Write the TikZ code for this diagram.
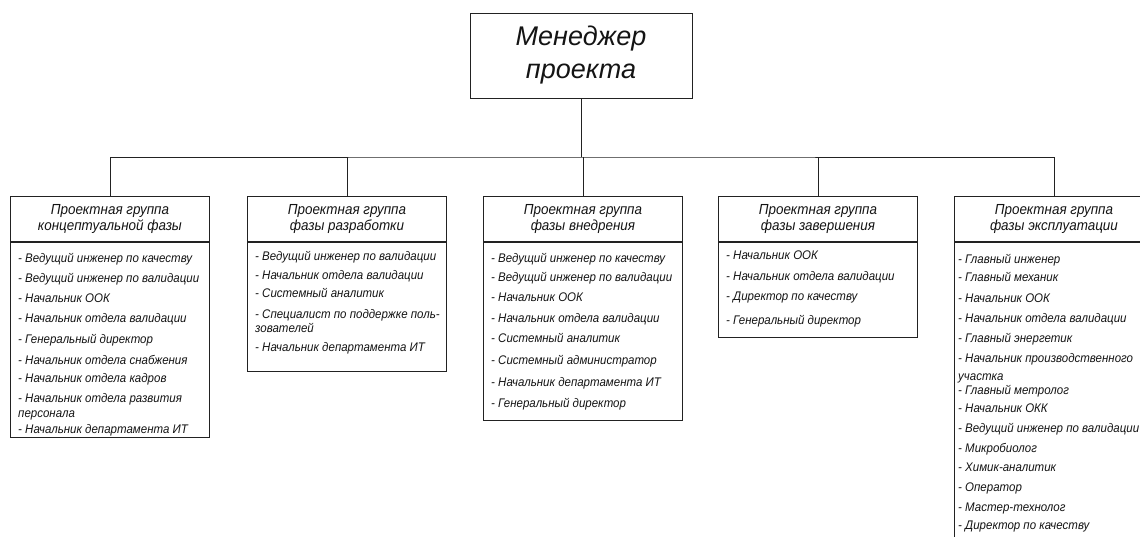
\documentclass[tikz,border=0pt]{standalone}
\usepackage{fontspec}
\setmainfont{Liberation Sans}
\newfontfamily\narrowfont[FakeStretch=0.92]{Liberation Sans}
\definecolor{ink}{HTML}{141414}
\definecolor{edge}{HTML}{222222}
\begin{document}
\begin{tikzpicture}[x=1pt,y=-1pt,
  title/.style={draw=edge,line width=0.9pt,minimum width=222pt,minimum height=85pt,
    align=center,font=\fontsize{27}{33}\selectfont\itshape,text=ink,inner sep=0pt},
  hdr/.style={draw=edge,line width=0.9pt,minimum width=199pt,minimum height=45pt,
    align=center,font=\narrowfont\fontsize{14.6}{16.5}\selectfont\itshape,text=ink,inner sep=0pt,anchor=north west},
  bodybox/.style={draw=edge,line width=0.9pt,minimum width=199pt,anchor=north west,inner sep=0pt},
  item/.style={anchor=base west,inner sep=0pt,font=\narrowfont\fontsize{12.5}{14}\selectfont\itshape,text=ink},
  link/.style={draw=edge,line width=0.9pt}]
\clip (0,0) rectangle (1140,536);
\fill[white] (0,0) rectangle (1140,536);

\node[title] (pm) at (581,55.5) {Менеджер\\проекта};

% headers
\node[hdr] (h1) at (10,196) {Проектная группа\\концептуальной фазы};
\node[hdr] (h2) at (247,196) {Проектная группа\\фазы разработки};
\node[hdr] (h3) at (483,196) {Проектная группа\\фазы внедрения};
\node[hdr] (h4) at (718,196) {Проектная группа\\фазы завершения};
\node[hdr] (h5) at (954,196) {Проектная группа\\фазы эксплуатации};

% bodies
\node[bodybox,minimum height=195pt] (b1) at (h1.south west) {};
\node[bodybox,minimum height=129pt] (b2) at (h2.south west) {};
\node[bodybox,minimum height=178pt] (b3) at (h3.south west) {};
\node[bodybox,minimum height=95pt] (b4) at (h4.south west) {};
\node[bodybox,minimum height=320pt] (b5) at (h5.south west) {};

% connectors
\coordinate (bus) at (581,157);
\draw[link] (pm.south) -- (bus);
\draw[link] (h1.north) |- (bus) -| (h5.north);
\draw[link] (h2.north) -- (h2.north |- bus);
\draw[link] (h3.north) -- (h3.north |- bus);
\draw[link] (h4.north) -- (h4.north |- bus);

% items box 1
\foreach \t/\y [count=\i] in {
  {- Ведущий инженер по качеству}/262,
  {- Ведущий инженер по валидации}/282,
  {- Начальник ООК}/302,
  {- Начальник отдела валидации}/322,
  {- Генеральный директор}/343,
  {- Начальник отдела снабжения}/364,
  {- Начальник отдела кадров}/382,
  {- Начальник отдела развития}/402,
  {персонала}/417,
  {- Начальник департамента ИТ}/433}
  \node[item] (a\i) at (18,\y) {\t};

% items box 2
\foreach \t/\y [count=\i] in {
  {- Ведущий инженер по валидации}/260,
  {- Начальник отдела валидации}/279,
  {- Системный аналитик}/297,
  {- Специалист по поддержке поль-}/318,
  {зователей}/332,
  {- Начальник департамента ИТ}/351}
  \node[item] (c\i) at (255,\y) {\t};

% items box 3
\foreach \t/\y [count=\i] in {
  {- Ведущий инженер по качеству}/262,
  {- Ведущий инженер по валидации}/281,
  {- Начальник ООК}/301,
  {- Начальник отдела валидации}/322,
  {- Системный аналитик}/342,
  {- Системный администратор}/364,
  {- Начальник департамента ИТ}/386,
  {- Генеральный директор}/407}
  \node[item] (d\i) at (491,\y) {\t};

% items box 4
\foreach \t/\y [count=\i] in {
  {- Начальник ООК}/259,
  {- Начальник отдела валидации}/280,
  {- Директор по качеству}/300,
  {- Генеральный директор}/324}
  \node[item] (e\i) at (726,\y) {\t};

% items box 5
\foreach \t/\y [count=\i] in {
  {- Главный инженер}/263,
  {- Главный механик}/281,
  {- Начальник ООК}/302,
  {- Начальник отдела валидации}/322,
  {- Главный энергетик}/342,
  {- Начальник производственного}/362,
  {участка}/380,
  {- Главный метролог}/394,
  {- Начальник ОКК}/412,
  {- Ведущий инженер по валидации}/432,
  {- Микробиолог}/452,
  {- Химик-аналитик}/471,
  {- Оператор}/491,
  {- Мастер-технолог}/511,
  {- Директор по качеству}/529}
  \node[item] (f\i) at (958,\y) {\t};
\end{tikzpicture}
\end{document}
